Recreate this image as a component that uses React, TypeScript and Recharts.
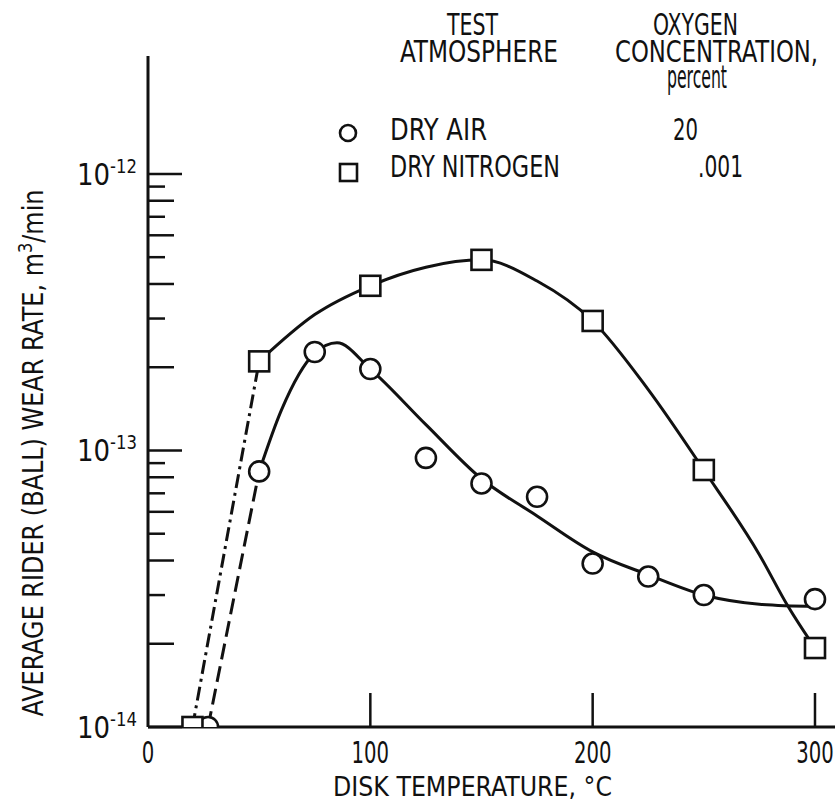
import React from 'react';
import { ComposedChart, Line, Scatter, XAxis, YAxis } from 'recharts';

// ---- data ----
// Measured points: dry air (circles)
const airTemps = [27, 50, 75, 100, 125, 150, 175, 200, 225, 250, 300];
const airRates = [1e-14, 8.4e-14, 2.27e-13, 1.97e-13, 9.4e-14, 7.6e-14, 6.8e-14, 3.9e-14, 3.5e-14, 3.0e-14, 2.9e-14];
// Measured points: dry nitrogen (squares)
const n2Temps = [20, 50, 100, 150, 200, 250, 300];
const n2Rates = [1e-14, 2.1e-13, 3.94e-13, 4.89e-13, 2.94e-13, 8.5e-14, 1.93e-14];

// Faired (hand-drawn) curves
const airCurveTemps = [50, 60, 75, 85, 100, 125, 150, 175, 200, 225, 250, 275, 300];
const airCurveRates = [8.4e-14, 1.4e-13, 2.25e-13, 2.45e-13, 1.97e-13, 1.24e-13, 7.9e-14, 5.8e-14, 4.3e-14, 3.55e-14, 3.0e-14, 2.78e-14, 2.73e-14];
const n2CurveTemps = [50, 75, 100, 125, 150, 175, 200, 225, 250, 275, 288, 300];
const n2CurveRates = [2.1e-13, 3.1e-13, 3.94e-13, 4.6e-13, 4.89e-13, 4.1e-13, 2.94e-13, 1.66e-13, 8.5e-14, 4.2e-14, 2.72e-14, 1.93e-14];

// Dashed extrapolations down to the lower limit
const airDashTemps = [27, 50];
const airDashRates = [1e-14, 8.4e-14];
const n2DashTemps = [20, 50];
const n2DashRates = [1e-14, 2.1e-13];

// Axis ticks
const xTicks = [0, 100, 200, 300];
const yTicks = [
  1e-14, 2e-14, 3e-14, 4e-14, 5e-14, 6e-14, 7e-14, 8e-14, 9e-14,
  1e-13, 2e-13, 3e-13, 4e-13, 5e-13, 6e-13, 7e-13, 8e-13, 9e-13,
  1e-12,
];

const zip = (xs: number[], ys: number[]) => xs.map((x, i) => ({ x, y: ys[i] }));

const INK = '#111';
const F = "'Liberation Sans Narrow','DejaVu Sans Condensed','Liberation Sans',Arial,sans-serif";

function YTick(props: any) {
  const { x, y, payload } = props;
  const v: number = payload.value;
  const lg = Math.log10(v);
  const major = Math.abs(lg - Math.round(lg)) < 1e-6;
  const dec = Math.floor(lg + 1e-9);
  const mant = Math.round(v / Math.pow(10, dec));
  const len = major ? 34 : mant % 2 === 0 ? 26 : 17;
  const exp = Math.round(lg);
  return (
    <g>
      <line x1={x} x2={x + len} y1={y} y2={y} stroke={INK} strokeWidth={2.5} />
      {major && (
        <text x={x - 71} y={y + 11} fontFamily={F} fontSize={30} fill={INK}
          textLength={60} lengthAdjust="spacingAndGlyphs">
          10<tspan dy={-12} fontSize={19}>{`-${-exp}`}</tspan>
        </text>
      )}
    </g>
  );
}

function XTick(props: any) {
  const { x, y, payload } = props;
  const s = String(payload.value);
  return (
    <g>
      {payload.value !== 0 && <line x1={x} x2={x} y1={y} y2={y - 34} stroke={INK} strokeWidth={2.5} />}
      <text x={x} y={y + 36} textAnchor="middle" fontFamily={F} fontSize={31} fill={INK}
        textLength={s.length * 12.5} lengthAdjust="spacingAndGlyphs">
        {s}
      </text>
    </g>
  );
}

const CircleMark = (p: any) => (
  <circle cx={p.cx} cy={p.cy} r={10} fill="#fff" stroke={INK} strokeWidth={2.6} />
);
const SquareMark = (p: any) => (
  <rect x={p.cx - 10} y={p.cy - 10} width={20} height={20} fill="#fff" stroke={INK} strokeWidth={2.6} />
);

function T(props: any) {
  const { x, y, w, anchor = 'start', size = 30, children } = props;
  return (
    <text
      x={x}
      y={y}
      textAnchor={anchor}
      fontFamily={F}
      fontSize={size}
      fill={INK}
      textLength={w}
      lengthAdjust="spacingAndGlyphs"
    >
      {children}
    </text>
  );
}

export default function App() {
  return (
    <div style={{ position: 'absolute', left: 0, top: 0, width: 835, height: 802, background: '#fff' }}>
      <ComposedChart width={835} height={802} margin={{ top: 56, right: 0, bottom: 45, left: 88 }}>
        <XAxis
          dataKey="x"
          type="number"
          domain={[0, 309]}
          ticks={xTicks}
          allowDataOverflow
          height={30}
          tickSize={0}
          tickMargin={0}
          tickLine={false}
          tick={<XTick />}
          axisLine={{ stroke: INK, strokeWidth: 3 }}
          interval={0}
        />
        <YAxis
          dataKey="y"
          type="number"
          scale="log"
          domain={[1e-14, 2.67e-12]}
          ticks={yTicks}
          allowDataOverflow
          width={60}
          tickSize={0}
          tickMargin={0}
          tickLine={false}
          tick={<YTick />}
          axisLine={{ stroke: INK, strokeWidth: 3 }}
          interval={0}
        />
        <Line data={zip(airDashTemps, airDashRates)} dataKey="y" type="linear" stroke={INK} strokeWidth={3}
          strokeDasharray="16 7" dot={false} activeDot={false} isAnimationActive={false} />
        <Line data={zip(n2DashTemps, n2DashRates)} dataKey="y" type="linear" stroke={INK} strokeWidth={3}
          strokeDasharray="14 5 3 5" dot={false} activeDot={false} isAnimationActive={false} />
        <Line data={zip(airCurveTemps, airCurveRates)} dataKey="y" type="monotone" stroke={INK} strokeWidth={3}
          dot={false} activeDot={false} isAnimationActive={false} />
        <Line data={zip(n2CurveTemps, n2CurveRates)} dataKey="y" type="monotone" stroke={INK} strokeWidth={3}
          dot={false} activeDot={false} isAnimationActive={false} />
        <Scatter data={zip(airTemps, airRates)} dataKey="y" shape={CircleMark} isAnimationActive={false} />
        <Scatter data={zip(n2Temps, n2Rates)} dataKey="y" shape={SquareMark} isAnimationActive={false} />
      </ComposedChart>
      <svg width={835} height={802} style={{ position: 'absolute', left: 0, top: 0, pointerEvents: 'none' }}>
        {/* legend header */}
        <T x={447} y={35} w={51}>TEST</T>
        <T x={400} y={62} w={158}>ATMOSPHERE</T>
        <T x={653} y={35} w={85}>OXYGEN</T>
        <T x={615} y={62} w={203}>CONCENTRATION,</T>
        <T x={667} y={88} w={60} size={32}>percent</T>
        {/* legend rows */}
        <circle cx={348} cy={133} r={8} fill="#fff" stroke={INK} strokeWidth={2.6} />
        <T x={390} y={140} w={97}>DRY AIR</T>
        <T x={673} y={140} w={25}>20</T>
        <rect x={340} y={164} width={17} height={17} fill="#fff" stroke={INK} strokeWidth={2.6} />
        <T x={390} y={177} w={170}>DRY NITROGEN</T>
        <T x={698} y={177} w={45}>.001</T>
        {/* axis titles */}
        <T x={333} y={796} w={279} size={26}>DISK TEMPERATURE, °C</T>
        <text
          x={43}
          y={453}
          transform="rotate(-90 43 453)"
          textAnchor="middle"
          fontFamily={F}
          fontSize={28}
          fill={INK}
          textLength={527}
          lengthAdjust="spacingAndGlyphs"
        >
          AVERAGE RIDER (BALL) WEAR RATE, m<tspan dy={-11} fontSize={19}>3</tspan>
          <tspan dy={11}>/min</tspan>
        </text>
      </svg>
    </div>
  );
}
